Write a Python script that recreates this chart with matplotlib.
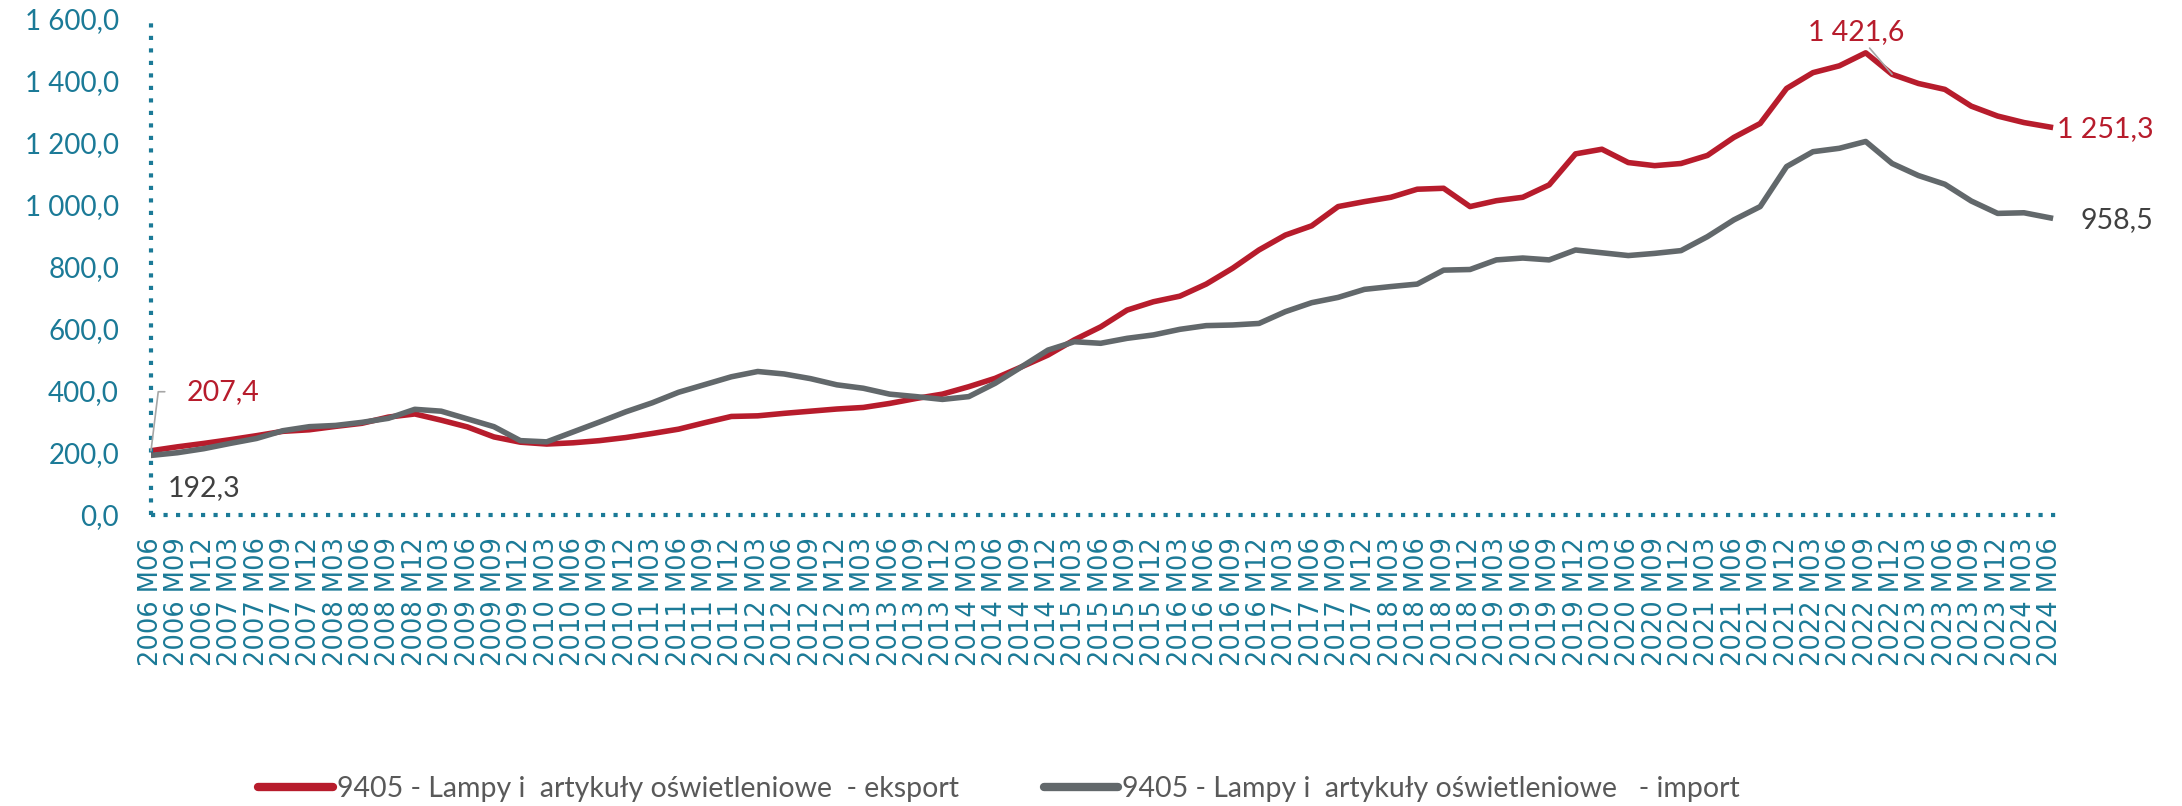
import numpy as np
import matplotlib
matplotlib.use("Agg")
import matplotlib.pyplot as plt
from matplotlib.ticker import FuncFormatter

plt.rcParams['font.family'] = ['Lato', 'DejaVu Sans']

# quarterly points 2006 M06 .. 2024 M06
years = list(range(2006, 2025))
months = ['M03', 'M06', 'M09', 'M12']
periods = [f"{y} {m}" for y in years for m in months]
periods = periods[periods.index('2006 M06'):periods.index('2024 M06') + 1]

eksport = [207.4, 220, 231, 243, 256, 270, 275, 286, 296, 316,
           326, 306, 284, 252, 235, 229, 233, 240, 250, 263,
           277, 298, 318, 320, 328, 335, 342, 347, 360, 376,
           390, 414, 441, 478, 516, 565, 607, 661, 688, 706,
           745, 796, 855, 903, 933, 995, 1011, 1025, 1051, 1054,
           995, 1014, 1025, 1065, 1165, 1180, 1137, 1127, 1134, 1160,
           1218, 1263, 1376, 1427, 1449, 1491, 1421.6, 1392, 1373, 1319,
           1287, 1266, 1251.3]

import_ = [192.3, 201, 214, 231, 247, 272, 285, 289, 299, 312,
           341, 335, 310, 285, 240, 236, 268, 300, 333, 362,
           396, 421, 446, 463, 455, 440, 420, 409, 390, 382,
           373, 382, 425, 478, 532, 559, 554, 570, 581, 599,
           611, 613, 618, 656, 685, 702, 728, 737, 745, 790,
           792, 823, 829, 823, 855, 846, 837, 844, 853, 898,
           952, 995, 1124, 1172, 1183, 1205, 1134, 1095, 1067, 1013,
           973, 975, 958.5]

lab_eks = "9405 - Lampy i  artykuły oświetleniowe  - eksport"
lab_imp = "9405 - Lampy i  artykuły oświetleniowe   - import"

RED = '#B71C2C'
GREY = '#62686B'
TEAL = '#1B7A97'
DARK = '#404040'

fig = plt.figure(figsize=(21.82, 8.06), dpi=100)
ax = fig.add_axes([0.0692, 0.361, 0.8735, 0.6154])

x = np.arange(len(periods))
ax.plot(x, eksport, color=RED, lw=4, label=lab_eks, solid_joinstyle='round')
ax.plot(x, import_, color=GREY, lw=4, label=lab_imp, solid_joinstyle='round')

ax.set_xlim(0, len(periods) - 0.75)
ax.set_ylim(0, 1600)
ax.set_yticks(np.arange(0, 1601, 200))
ax.yaxis.set_major_formatter(FuncFormatter(
    lambda v, p: f"{v:,.1f}".replace(",", " ").replace(".", ",")))
ax.set_xticks(x)
ax.set_xticklabels(periods, rotation=90, fontfamily='DejaVu Sans', fontsize=18.5)
ax.tick_params(axis='x', length=0, pad=16, colors=TEAL)
ax.tick_params(axis='y', length=0, pad=23, colors=TEAL, labelsize=20)

for s in ['top', 'right']:
    ax.spines[s].set_visible(False)
for s in ['left', 'bottom']:
    ax.spines[s].set_color(TEAL)
    ax.spines[s].set_linewidth(3)
    ax.spines[s].set_linestyle((0, (1, 2)))
    ax.spines[s].set_capstyle('butt')

# data labels
ax.annotate("207,4", xy=(0, eksport[0]), xytext=(36, 59), textcoords='offset pixels',
            color=RED, fontsize=20.5, ha='left', va='center',
            arrowprops=dict(arrowstyle='-', color='#A6A6A6', lw=1.2, shrinkA=14, shrinkB=0,
                            connectionstyle='angle,angleA=180,angleB=83,rad=0'))
ax.annotate("192,3", xy=(0, import_[0]), xytext=(17, -33), textcoords='offset pixels',
            color=DARK, fontsize=20.5, ha='left', va='center')
ax.annotate("1 421,6", xy=(66, eksport[66]), xytext=(-36, 42), textcoords='offset pixels',
            color=RED, fontsize=20.5, ha='center', va='center',
            arrowprops=dict(arrowstyle='-', color='#A6A6A6', lw=1.2, shrinkA=0, shrinkB=0))
ax.annotate("1 251,3", xy=(72, eksport[72]), xytext=(7, -2), textcoords='offset pixels',
            color=RED, fontsize=20.5, ha='left', va='center')
ax.annotate("958,5", xy=(72, import_[72]), xytext=(30, -2), textcoords='offset pixels',
            color=DARK, fontsize=20.5, ha='left', va='center')

leg = fig.legend(loc='center', bbox_to_anchor=(0.458, 0.021), ncol=2, frameon=False,
                 fontsize=20.5, handlelength=2.6, handletextpad=0.15, columnspacing=3,
                 labelcolor='#595959')
for h in leg.get_lines():
    h.set_linewidth(6)
    h.set_solid_capstyle('round')

fig.savefig('out.png', dpi=100)
